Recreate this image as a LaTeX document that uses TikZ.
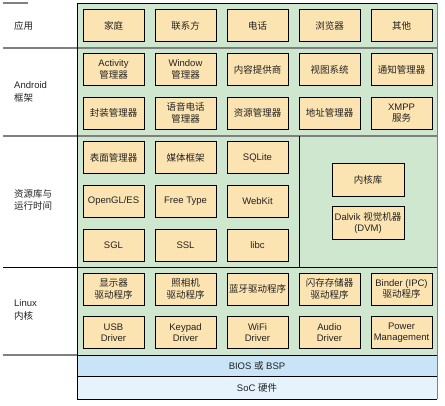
\documentclass[tikz,border=0pt]{standalone}
\usepackage{fontspec}
\setmainfont{Liberation Sans}
\newfontfamily\cjk{Noto Sans CJK SC}
\newcommand\zh[1]{{\cjk #1}}
\definecolor{layergreen}{HTML}{CFE6CF}
\definecolor{boxfill}{HTML}{FCE4B2}
\definecolor{biosblue}{HTML}{C9E4F7}
\definecolor{socblue}{HTML}{E6F2FC}
\definecolor{sepgray}{HTML}{808080}
\definecolor{txt}{HTML}{222222}
\tikzset{
  compbox/.style={draw=black, line width=0.8pt, fill=boxfill, minimum width=61pt, minimum height=32pt,
    inner sep=0pt, align=center, text=txt, font=\fontsize{9.5}{11.5}\selectfont},
  widebox/.style={compbox, minimum width=72pt, minimum height=33pt},
  layerlabel/.style={anchor=west, align=left, inner sep=0pt, text=txt, font=\fontsize{9.5}{12.5}\selectfont},
  bandlabel/.style={inner sep=0pt, text=txt, font=\fontsize{9.5}{11.5}\selectfont},
  sepline/.style={draw=sepgray, line width=1.3pt},
  darkline/.style={draw=black, line width=0.8pt}
}
\begin{document}
\begin{tikzpicture}[x=1pt,y=-1pt]
\useasboundingbox (0,0) rectangle (445,405);
% backgrounds
\fill[layergreen] (77,3) rectangle (437,355);
\fill[biosblue] (77,355) rectangle (437,376);
\fill[socblue] (77,376) rectangle (437,399);
% separators
\draw[sepline] (3,3) -- (28,3);
\draw[darkline] (77,3) -- (437,3);
\draw[sepline] (3,48) -- (437,48);
\draw[sepline] (3,136) -- (437,136);
\draw[darkline] (3,267) -- (437,267);
\draw[sepline] (3,355) -- (77,355);
\draw[darkline] (77,355) -- (437,355);
\draw[darkline] (77,376) -- (437,376);
\draw[darkline] (77,399) -- (437,399);
\draw[darkline] (77,3) -- (77,399);
\draw[darkline] (299,136) -- (299,267);
\draw[draw=sepgray, line width=0.8pt] (437,3) -- (437,399);
% layer labels
\node[layerlabel] (lapp) at (14,26) {\zh{应用}};
\node[layerlabel] (lfw) at (14,92) {Android\\\zh{框架}};
\node[layerlabel] (llib) at (14,200) {\zh{资源库与}\\\zh{运行时间}};
\node[layerlabel] (lkern) at (14,310) {Linux\\\zh{内核}};
% applications
\node[compbox] (a1) at (113.5,25.5) {\zh{家庭}};
\node[compbox] (a2) at (185.5,25.5) {\zh{联系方}};
\node[compbox] (a3) at (257.5,25.5) {\zh{电话}};
\node[compbox] (a4) at (329.5,25.5) {\zh{浏览器}};
\node[compbox] (a5) at (401.5,25.5) {\zh{其他}};
% framework
\node[compbox] (f1) at (113.5,69.5) {Activity\\\zh{管理器}};
\node[compbox] (f2) at (185.5,69.5) {Window\\\zh{管理器}};
\node[compbox] (f3) at (257.5,69.5) {\zh{内容提供商}};
\node[compbox] (f4) at (329.5,69.5) {\zh{视图系统}};
\node[compbox] (f5) at (401.5,69.5) {\zh{通知管理器}};
\node[compbox] (f6) at (113.5,113) {\zh{封装管理器}};
\node[compbox] (f7) at (185.5,113) {\zh{语音电话}\\\zh{管理器}};
\node[compbox] (f8) at (257.5,113) {\zh{资源管理器}};
\node[compbox] (f9) at (329.5,113) {\zh{地址管理器}};
\node[compbox] (f10) at (401.5,113) {XMPP\\\zh{服务}};
% libraries
\node[compbox] (l1) at (113.5,157.5) {\zh{表面管理器}};
\node[compbox] (l2) at (185.5,157.5) {\zh{媒体框架}};
\node[compbox] (l3) at (257.5,157.5) {SQLite};
\node[compbox] (l4) at (113.5,201) {OpenGL/ES};
\node[compbox] (l5) at (185.5,201) {Free Type};
\node[compbox] (l6) at (257.5,201) {WebKit};
\node[compbox] (l7) at (113.5,245) {SGL};
\node[compbox] (l8) at (185.5,245) {SSL};
\node[compbox] (l9) at (257.5,245) {libc};
\node[widebox] (r1) at (368,179.5) {\zh{内核库}};
\node[widebox] (r2) at (368,223) {Dalvik \zh{视觉机器}\\(DVM)};
% kernel
\node[compbox] (k1) at (113.5,289) {\zh{显示器}\\\zh{驱动程序}};
\node[compbox] (k2) at (185.5,289) {\zh{照相机}\\\zh{驱动程序}};
\node[compbox] (k3) at (257.5,289) {\zh{蓝牙驱动程序}};
\node[compbox] (k4) at (329.5,289) {\zh{闪存存储器}\\\zh{驱动程序}};
\node[compbox] (k5) at (401.5,289) {Binder (IPC)\\\zh{驱动程序}};
\node[compbox] (k6) at (113.5,332.5) {USB\\Driver};
\node[compbox] (k7) at (185.5,332.5) {Keypad\\Driver};
\node[compbox] (k8) at (257.5,332.5) {WiFi\\Driver};
\node[compbox] (k9) at (329.5,332.5) {Audio\\Driver};
\node[compbox] (k10) at (401.5,332.5) {Power\\Management};
% bands
\node[bandlabel] (bios) at (257,366) {BIOS \zh{或} BSP};
\node[bandlabel] (soc) at (257,388) {SoC \zh{硬件}};
\end{tikzpicture}
\end{document}
